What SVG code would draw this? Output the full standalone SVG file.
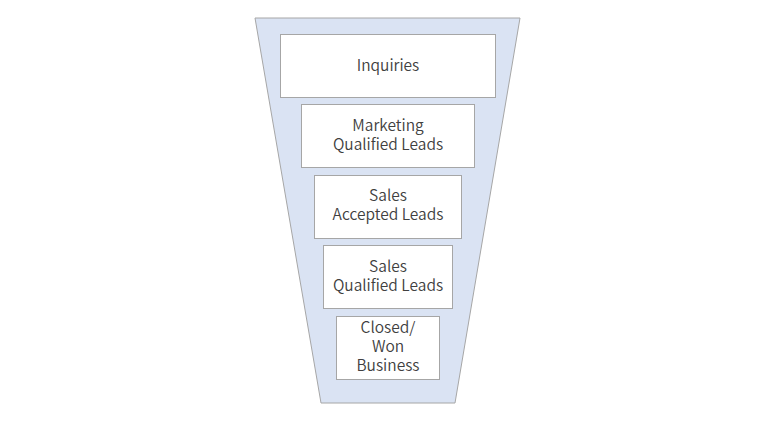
<svg xmlns="http://www.w3.org/2000/svg" width="765" height="430" viewBox="0 0 765 430">
<style>
.box{fill:#ffffff;stroke:#a6a6a6;stroke-width:1}
.t{font-family:"Noto Sans CJK JP","Noto Sans",sans-serif;font-size:15.5px;fill:#404040;text-anchor:middle;font-weight:350}
</style>
<rect width="765" height="430" fill="#ffffff"/>
<g id="funnel"><polygon points="255,18 520,18 455,403 321,403" fill="#dae3f3" stroke="#a6a6a6" stroke-width="1"/></g>
<g id="connectors"></g>
<g id="n1"><rect class="box" x="280.5" y="34.5" width="215" height="63"/><text class="t" x="388" y="71">Inquiries</text></g>
<g id="n2"><rect class="box" x="301.5" y="104.5" width="173" height="63"/><text class="t" x="388" y="131">Marketing</text><text class="t" x="388" y="150">Qualified Leads</text></g>
<g id="n3"><rect class="box" x="314.5" y="175.5" width="147" height="63"/><text class="t" x="388" y="201">Sales</text><text class="t" x="388" y="220">Accepted Leads</text></g>
<g id="n4"><rect class="box" x="323.5" y="245.5" width="129" height="63"/><text class="t" x="388" y="272">Sales</text><text class="t" x="388" y="291">Qualified Leads</text></g>
<g id="n5"><rect class="box" x="336.5" y="316.5" width="103" height="63"/><text class="t" x="388" y="333">Closed/</text><text class="t" x="388" y="352">Won</text><text class="t" x="388" y="371">Business</text></g>
</svg>
